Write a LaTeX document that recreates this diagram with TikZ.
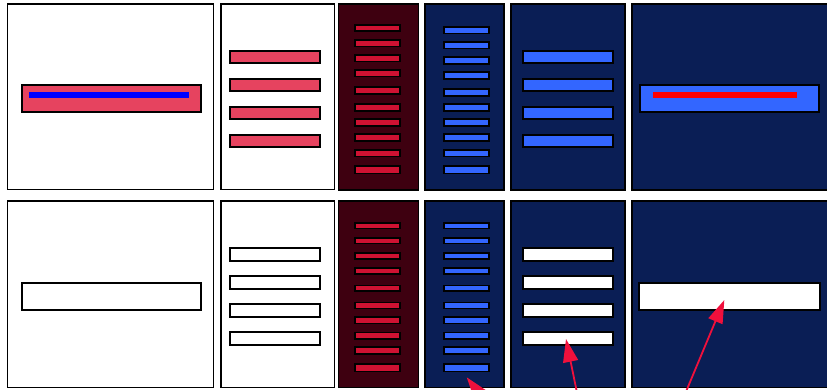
\documentclass[tikz,border=0pt]{standalone}
\usetikzlibrary{arrows.meta}
\definecolor{pinkbar}{HTML}{E6435F}
\definecolor{darkred}{HTML}{3E0010}
\definecolor{redbar}{HTML}{CF1232}
\definecolor{darkblue}{HTML}{0A1E55}
\definecolor{brightblue}{HTML}{3366FF}
\definecolor{arrowred}{HTML}{F0103C}
\begin{document}
\begin{tikzpicture}[x=1pt,y=-1pt,
  panel/.style={draw=black,line width=1.4pt},
  bigbar/.style={draw=black,line width=2pt},
  slimbar/.style={draw=black,line width=1.6pt},
  pointer/.style={draw=arrowred,line width=1.8pt,-{Triangle[length=23pt,width=15pt]}}]
\useasboundingbox (0,0) rectangle (827,390);
\fill[white] (0,0) rectangle (827,390);
\clip (0,0) rectangle (827,390);

% ---------- top row ----------
\draw[panel,fill=white] (7.5,4) rectangle (213.3,189.8);
\draw[bigbar,fill=pinkbar] (21.7,85.3) rectangle (201.3,112.3);
\fill[blue] (29,92) rectangle (189,97.7);

\draw[panel,fill=white] (221,4) rectangle (334.2,189.8);
\foreach \y in {50,78,106,134}
  \draw[bigbar,fill=pinkbar] (230.3,\y+0.7) rectangle (319.7,\y+13.3);

\draw[panel,fill=darkred] (338.7,4) rectangle (418.7,190);
\foreach \a/\b in {24/31.7,39/47.3,54/62.3,69.3/77.3,86/94.7,103.3/111.7,118/126.7,133.3/141.7,149/157.3,165.3/174.3}
  \draw[slimbar,fill=redbar] (354.8,\a+0.8) rectangle (399.9,\b-0.8);

\draw[panel,fill=darkblue] (425,4) rectangle (504,190);
\foreach \a/\b in {26/34.3,41/49.3,56/64.7,71/79.7,88/96.7,103.3/111.7,118/126.7,133.3/141.7,149/157.3,165/174.3}
  \draw[slimbar,fill=brightblue] (444.1,\a+0.8) rectangle (488.9,\b-0.8);

\draw[panel,fill=darkblue] (511,4) rectangle (625,190);
\foreach \y in {50,78,106,134}
  \draw[bigbar,fill=brightblue] (523.3,\y+0.7) rectangle (612.7,\y+13.3);

\draw[panel,fill=darkblue] (632,4) rectangle (829,190);
\draw[bigbar,fill=brightblue] (639.7,85.3) rectangle (819.3,112.3);
\fill[red] (653,91.7) rectangle (797,97.7);

% ---------- bottom row ----------
\draw[panel,fill=white] (7.5,201) rectangle (213.3,387.7);
\draw[bigbar,fill=white] (21.7,283.3) rectangle (201.3,310.3);

\draw[panel,fill=white] (221,201) rectangle (334.2,387.7);
\foreach \y in {247.3,275.3,303.3,331.3}
  \draw[bigbar,fill=white] (230.3,\y+1) rectangle (319.7,\y+14);

\draw[panel,fill=darkred] (338.7,201) rectangle (418.7,387.7);
\foreach \a/\b in {222.3/229.3,237.3/244.3,252.3/260,267.3/274.7,284.5/292,301.5/309.3,316.3/324.3,331.5/339.7,346.3/354.7,363.3/372.3}
  \draw[slimbar,fill=redbar] (354.8,\a+0.8) rectangle (399.9,\b-0.8);

\draw[panel,fill=darkblue] (425,201) rectangle (504,387.7);
\foreach \a/\b in {222.3/229.3,237.3/244.3,252.3/260,267.3/274.7,284.5/292,301.5/309.3,316.3/324.3,331.5/339.7,346.3/354.7,363.3/372.3}
  \draw[slimbar,fill=brightblue] (444.1,\a+0.8) rectangle (488.9,\b-0.8);

\draw[panel,fill=darkblue] (511,201) rectangle (625,387.7);
\foreach \y in {247.3,275.3,303.3,331.3}
  \draw[bigbar,fill=white] (523.3,\y+1) rectangle (612.7,\y+14);

\draw[panel,fill=darkblue] (632,201) rectangle (829,387.7);
\draw[bigbar,fill=white] (639.3,283.3) rectangle (819.7,310.3);

% ---------- pointers ----------
\coordinate (s1) at (491,409);
\coordinate (t1) at (466.7,377.3);
\coordinate (s2) at (578.5,400);
\coordinate (t2) at (566,339);
\coordinate (s3) at (682.5,400);
\coordinate (t3) at (724.3,300);
\draw[pointer] (s1) -- (t1);
\draw[pointer] (s2) -- (t2);
\draw[pointer] (s3) -- (t3);
\end{tikzpicture}
\end{document}
